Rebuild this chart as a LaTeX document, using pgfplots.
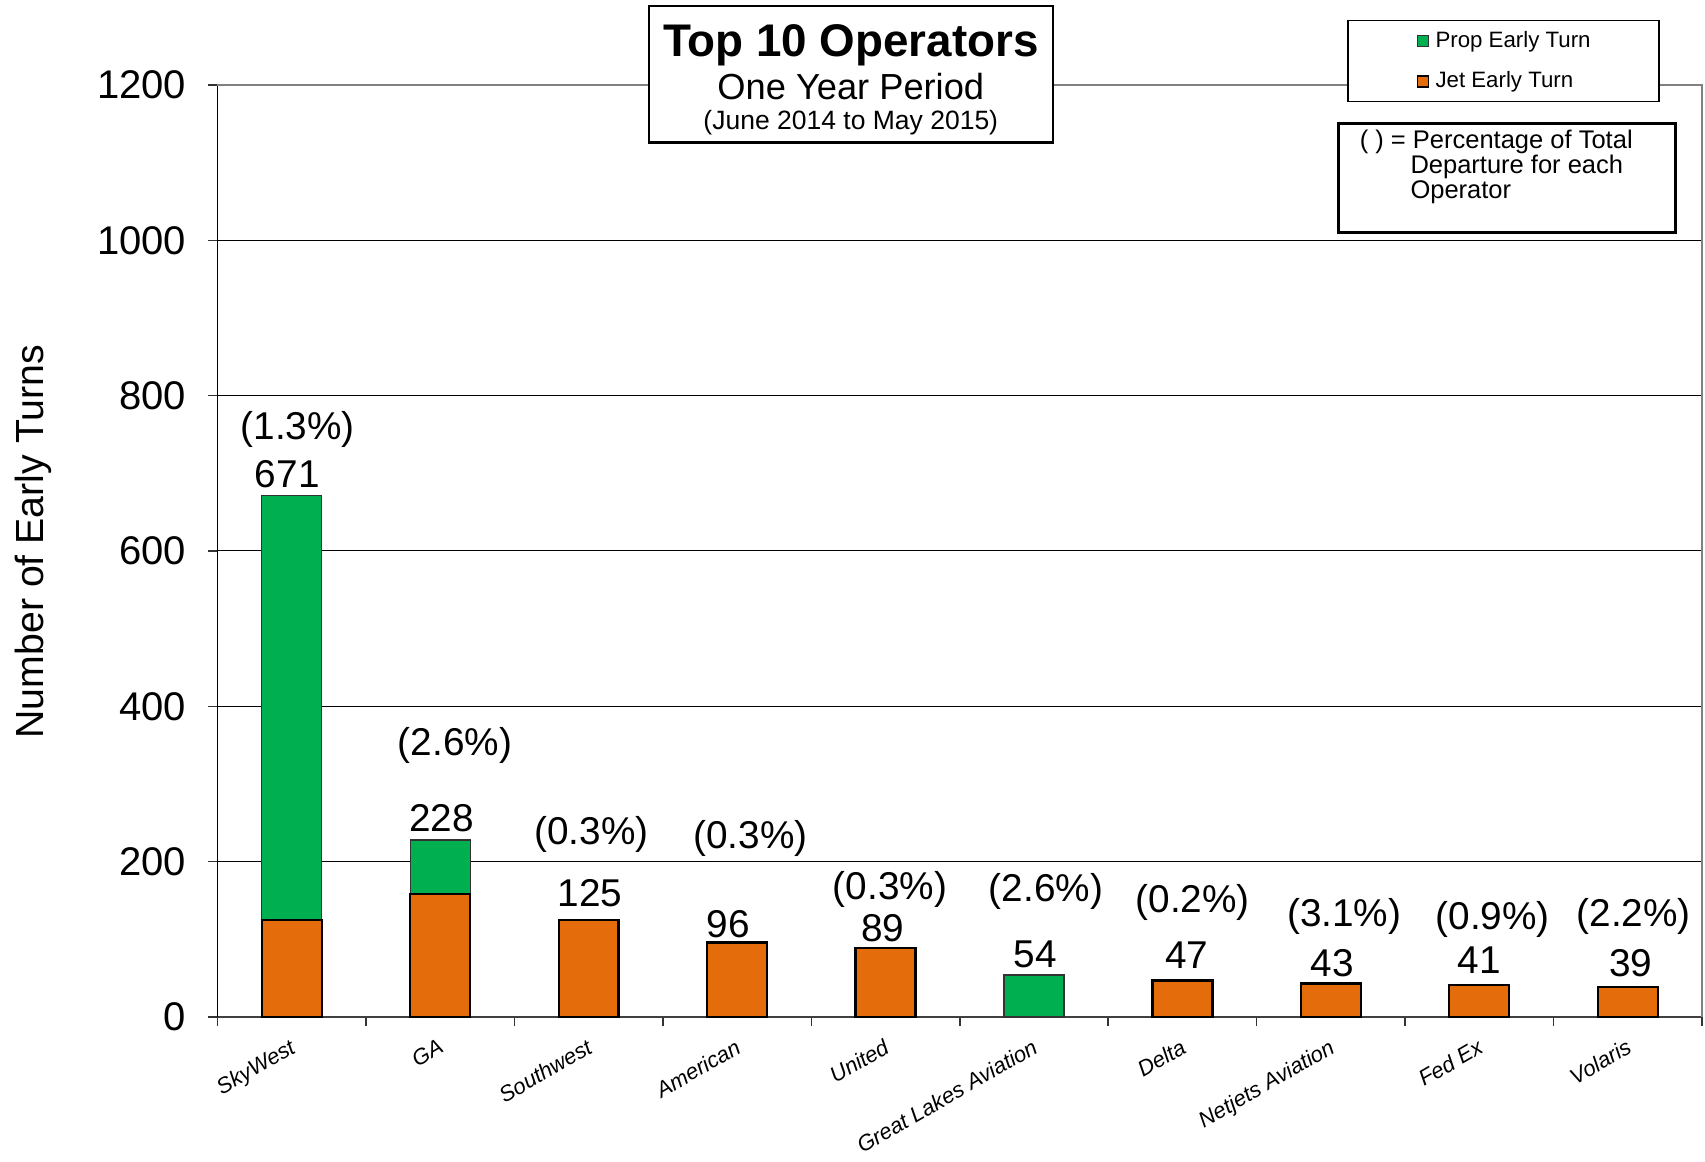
\documentclass[border=0pt]{standalone}
\usepackage{fontspec}
\setmainfont{Liberation Sans}
\usepackage{pgfplots}
\usepackage{pgfplotstable}
\pgfplotsset{compat=1.18}

\definecolor{propgreen}{RGB}{0,176,80}
\definecolor{jetorange}{RGB}{228,108,10}
\definecolor{framegray}{RGB}{128,128,128}

% small square legend swatch, overriding the bar legend
\pgfplotsset{every axis plot post/.append style={/pgfplots/legend image code/.code={%
  \draw[##1,/tikz/.cd, line width=0.5pt] (0pt,-2.2pt) rectangle (4.4pt,2.2pt);}}}
\tikzset{lab/.style={font=\fontsize{15.5}{18}\selectfont, inner sep=0pt, anchor=center}}

% early turns per operator, jet and prop part
\pgfplotstableread{
x jet prop
0 125 546
1 158 70
2 125 0
3 96 0
4 89 0
5 0 54
6 47 0
7 43 0
8 41 0
9 39 0
}\turnsdata

\begin{document}
\begin{tikzpicture}
\begin{axis}[
  name=ax,
  scale only axis,
  width=593.8pt, height=372.8pt,
  xmin=-0.5, xmax=9.5,
  ymin=0, ymax=1200,
  ybar stacked,
  bar width=0.404,
  clip=false,
  axis x line*=bottom, axis y line*=left,
  x axis line style={-, draw=black!75, line width=0.9pt},
  y axis line style={-, draw=black, line width=0.6pt},
  tick align=outside,
  major tick length=3.6pt,
  tick style={black!80, line width=0.6pt},
  xtick={-0.5,0.5,...,9.5}, xticklabels={},
  extra x ticks={0,1,...,9},
  extra x tick labels={SkyWest,GA,Southwest,American,United,Great Lakes Aviation,Delta,Netjets Aviation,Fed Ex,Volaris},
  extra x tick style={major tick length=0pt,
    tick label style={font=\fontsize{8.8}{10.5}\selectfont\itshape,
      xshift=-1.1pt, yshift=-8.2pt, rotate=30, anchor=north east, inner sep=0pt}},
  ytick={0,200,...,1200},
  ymajorgrids, grid style={black, line width=0.4pt},
  yticklabel style={font=\fontsize{16}{19}\selectfont, anchor=east, inner sep=0pt, xshift=-8.8pt},
  /pgf/number format/assume math mode=true,
  /pgf/number format/1000 sep={},
  ylabel={Number of Early Turns},
  ylabel style={font=\fontsize{15.7}{18}\selectfont, at={(rel axis cs:-0.124,0.51)}, anchor=center},
  legend style={at={(rel axis cs:0.8663,1.0255)}, anchor=center, draw=black, line width=0.5pt,
    fill=white, font=\fontsize{8.9}{10.7}\selectfont,
    nodes={inner sep=0pt},
    inner xsep=27.4pt, inner ysep=4.1pt, row sep=8.2pt, column sep=2.7pt},
  legend cell align=left,
  reverse legend,
]
% grey frame on top and right, under the legend
\draw[framegray, line width=1pt] (rel axis cs:0,1) -- (rel axis cs:1,1) -- (rel axis cs:1,0);
\addplot[fill=jetorange, draw=black, line width=0.9pt] table[x=x, y=jet] {\turnsdata};
\addplot[fill=propgreen, draw=black!80, line width=0.5pt] table[x=x, y=prop] {\turnsdata};
\legend{Jet Early Turn, Prop Early Turn}

% totals and share of departures
\node[lab] at (axis cs:0.04,756) {(1.3\%)};
\node[lab] at (axis cs:-0.03,699) {671};
\node[lab] at (axis cs:1.10,349) {(2.6\%)};
\node[lab] at (axis cs:1.01,256) {228};
\node[lab] at (axis cs:2.02,235) {(0.3\%)};
\node[lab] at (axis cs:2.01,160) {125};
\node[lab] at (axis cs:3.09,230) {(0.3\%)};
\node[lab] at (axis cs:2.94,120) {96};
\node[lab] at (axis cs:4.03,164) {(0.3\%)};
\node[lab] at (axis cs:3.98,115) {89};
\node[lab] at (axis cs:5.08,161) {(2.6\%)};
\node[lab] at (axis cs:5.01,81) {54};
\node[lab] at (axis cs:6.07,147) {(0.2\%)};
\node[lab] at (axis cs:6.03,80) {47};
\node[lab] at (axis cs:7.09,129) {(3.1\%)};
\node[lab] at (axis cs:7.01,69) {43};
\node[lab] at (axis cs:8.09,126) {(0.9\%)};
\node[lab] at (axis cs:8.00,73) {41};
\node[lab] at (axis cs:9.04,129) {(2.2\%)};
\node[lab] at (axis cs:9.02,69) {39};
\end{axis}

% page coordinates in pixels of the reference, origin top left
\begin{scope}[shift={(ax.south west)}, x=0.4pt, y=-0.4pt, shift={(-217.5,-1017)}]
% title box
\node[draw=black, line width=0.9pt, fill=white, minimum width=161.6pt, minimum height=54.6pt, inner sep=0pt] at (850.8,74.3) {};
\node[anchor=base, inner sep=0pt] at (850.8,56.5) {\fontsize{18.3}{20}\selectfont\bfseries Top 10 Operators};
\node[anchor=base, inner sep=0pt] at (850.8,100) {\fontsize{14.5}{17}\selectfont One Year Period};
\node[anchor=base, inner sep=0pt] at (850.8,130) {\fontsize{10.6}{12}\selectfont (June 2014 to May 2015)};
% note box
\node[draw=black, line width=1.1pt, fill=white, minimum width=134.9pt, minimum height=43.6pt, inner sep=0pt] at (1507,177.8) {};
\node[anchor=base west, inner sep=0pt, font=\fontsize{10.2}{12}\selectfont] at (1359.3,149) {( ) = Percentage of Total};
\node[anchor=base west, inner sep=0pt, font=\fontsize{10.2}{12}\selectfont] at (1410,173.3) {Departure for each};
\node[anchor=base west, inner sep=0pt, font=\fontsize{10.2}{12}\selectfont] at (1410,199) {Operator};
\pgfresetboundingbox
\path[use as bounding box] (0,0) rectangle (1705,1161);
\end{scope}
\end{tikzpicture}
\end{document}
